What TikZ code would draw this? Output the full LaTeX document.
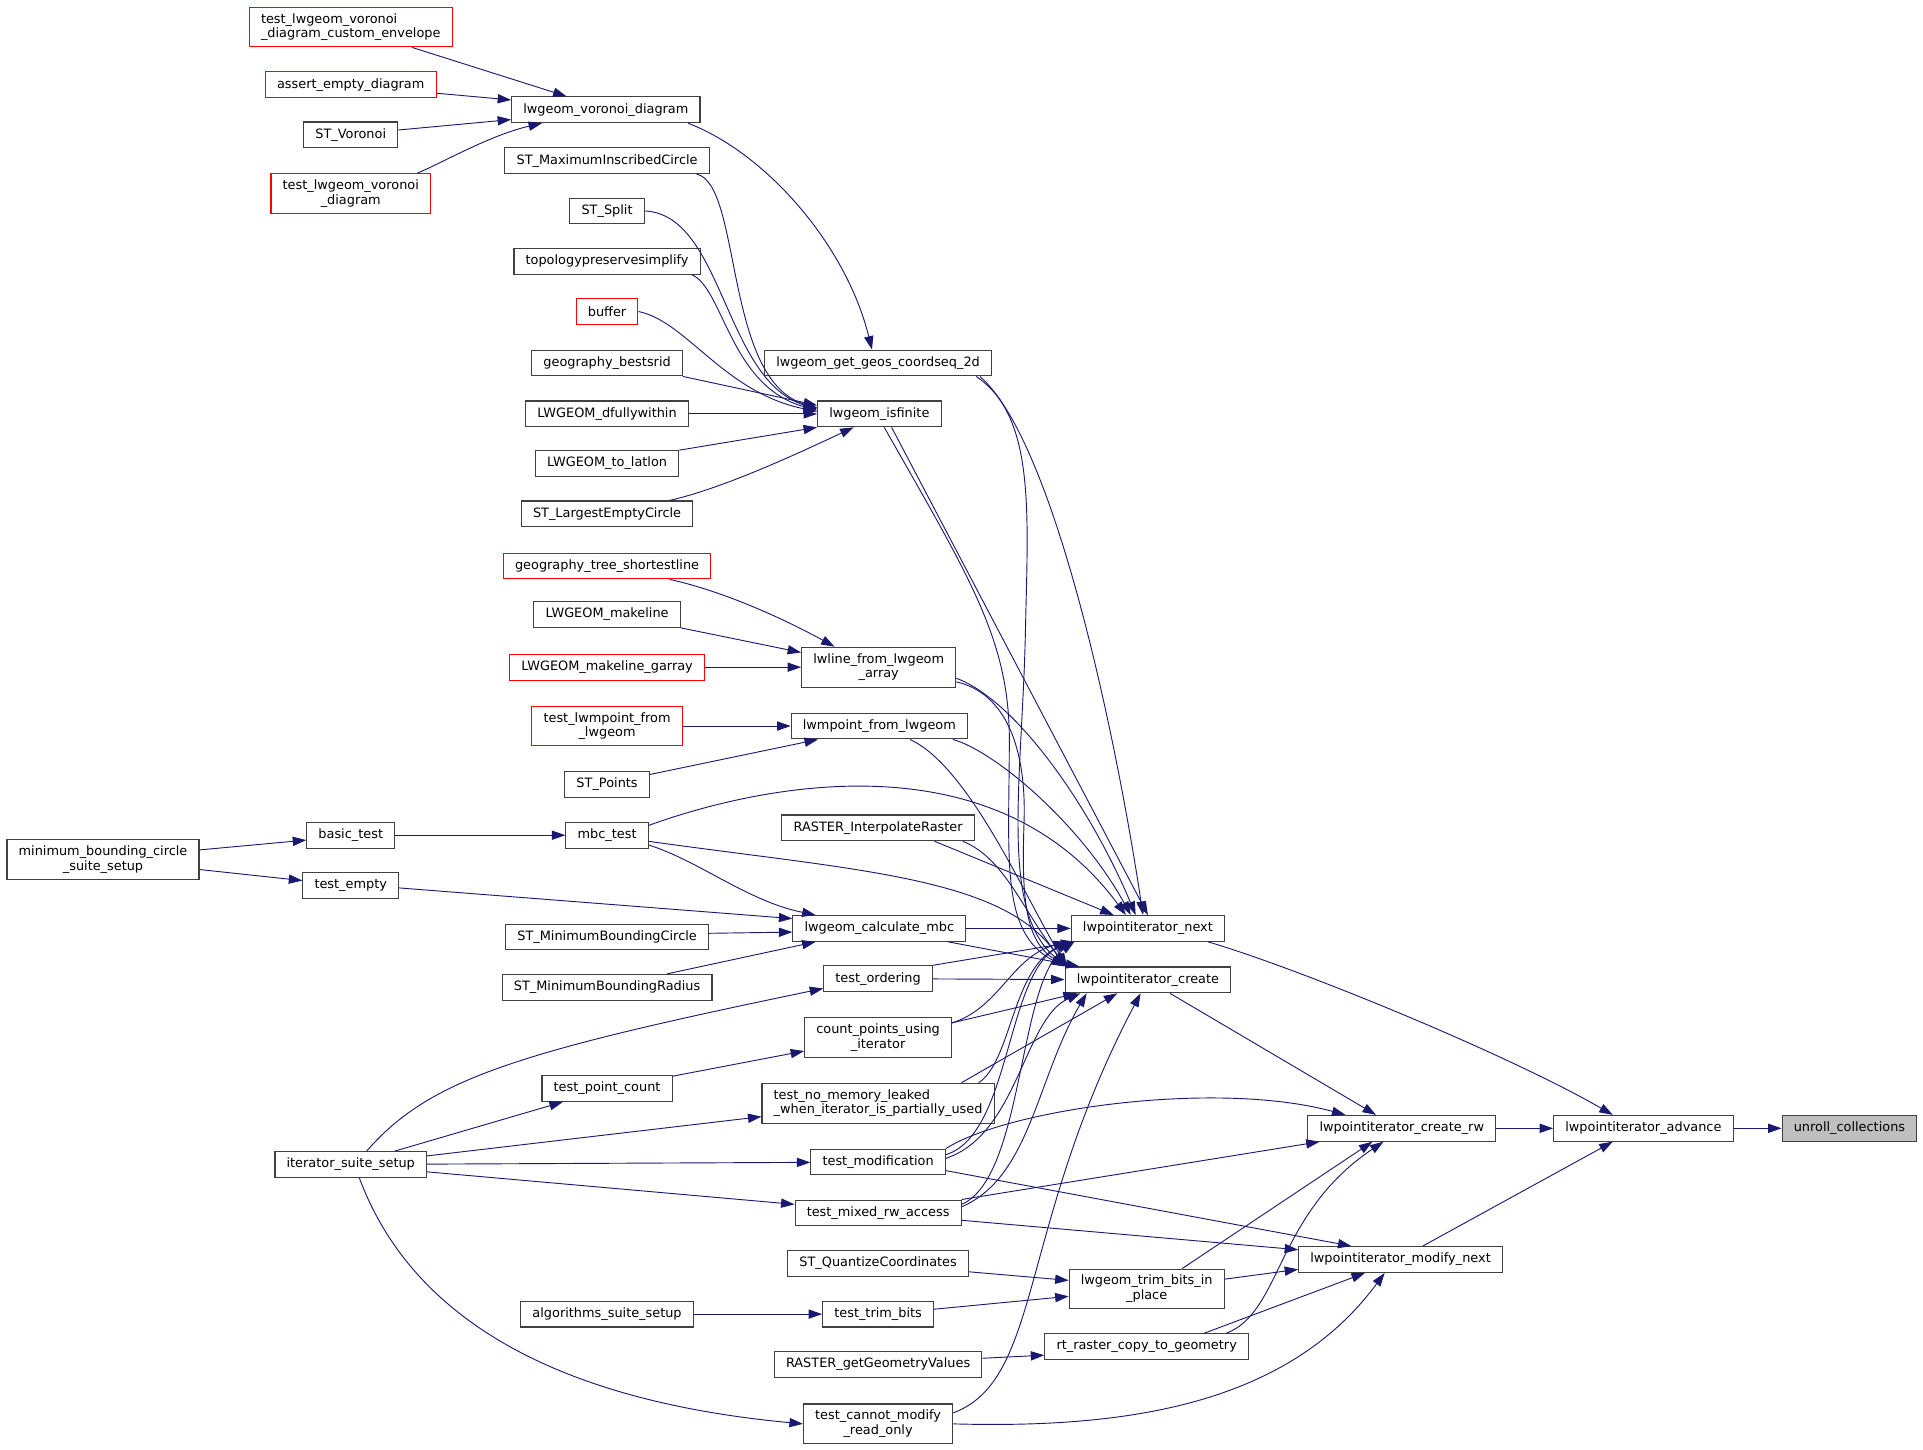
\documentclass[tikz,border=0pt]{standalone}
\usepackage{fontspec}
\newfontfamily\dxfont{DejaVu Sans}
\usetikzlibrary{arrows.meta}
\definecolor{edgeblue}{RGB}{25,25,112}
\definecolor{boxgrey}{RGB}{64,64,64}
\definecolor{rootfill}{RGB}{191,191,191}

\tikzset{
  fn/.style={draw=boxgrey, line width=0.9pt, fill=white, rectangle,
    inner xsep=9.5pt, inner ysep=5pt, minimum height=21pt, align=center,
    font=\dxfont\fontsize{10.5pt}{12pt}\selectfont},
  fnred/.style={fn, draw=red},
  call/.style={draw=edgeblue, line width=0.75pt, -{Triangle[length=11pt,width=7.5pt]}}
}

\begin{document}
\begin{tikzpicture}[x=1pt, y=-1pt]
\useasboundingbox (0,0) rectangle (1568,1181.5);

% right part
\node[fn, fill=rootfill] (uc) at (1508,920) {unroll\_collections};
\node[fn] (adv) at (1340,920) {lwpointiterator\_advance};
\node[fn] (crw) at (1143,920) {lwpointiterator\_create\_rw};
\node[fn] (mn) at (1142,1027) {lwpointiterator\_modify\_next};
\node[fn] (nxt) at (936,757) {lwpointiterator\_next};
\node[fn] (crt) at (936,799) {lwpointiterator\_create};
\node[fn] (tbip) at (935,1051) {lwgeom\_trim\_bits\_in\\\_place};
\node[fn] (rrc) at (935,1098) {rt\_raster\_copy\_to\_geometry};

% middle column
\node[fn] (ggc) at (716,296) {lwgeom\_get\_geos\_coordseq\_2d};
\node[fn] (isf) at (717,337.5) {lwgeom\_isfinite};
\node[fn] (lfa) at (716.5,544) {lwline\_from\_lwgeom\\\_array};
\node[fn] (mpl) at (717,592) {lwmpoint\_from\_lwgeom};
\node[fn] (rir) at (716,675) {RASTER\_InterpolateRaster};
\node[fn] (mbc) at (717,757) {lwgeom\_calculate\_mbc};
\node[fn] (tord) at (716,798) {test\_ordering};
\node[fn] (cpui) at (716,846) {count\_points\_using\\\_iterator};
\node[fn, align=left] (tnml) at (716,899.5) {test\_no\_memory\_leaked\\\_when\_iterator\_is\_partially\_used};
\node[fn] (tmod) at (716,947.5) {test\_modification};
\node[fn] (tmix) at (716,989) {test\_mixed\_rw\_access};
\node[fn] (sqc) at (716,1030) {ST\_QuantizeCoordinates};
\node[fn] (ttb) at (716,1071.5) {test\_trim\_bits};
\node[fn] (rggv) at (716,1112.5) {RASTER\_getGeometryValues};
\node[fn] (tcm) at (716,1161) {test\_cannot\_modify\\\_read\_only};

% callers column
\node[fn] (vor) at (494,89.5) {lwgeom\_voronoi\_diagram};
\node[fn] (smic) at (495,131) {ST\_MaximumInscribedCircle};
\node[fn] (ssp) at (495,172) {ST\_Split};
\node[fn] (tps) at (495,213) {topologypreservesimplify};
\node[fnred] (buf) at (495,254) {buffer};
\node[fn] (gbs) at (495,296) {geography\_bestsrid};
\node[fn] (ldw) at (495,337.5) {LWGEOM\_dfullywithin};
\node[fn] (ltl) at (495,378) {LWGEOM\_to\_latlon};
\node[fn] (slec) at (495,419) {ST\_LargestEmptyCircle};
\node[fnred] (gts) at (495,461.5) {geography\_tree\_shortestline};
\node[fn] (lml) at (495,501) {LWGEOM\_makeline};
\node[fnred] (lmg) at (495,544) {LWGEOM\_makeline\_garray};
\node[fnred] (tlmp) at (495,592) {test\_lwmpoint\_from\\\_lwgeom};
\node[fn] (spt) at (495,639.5) {ST\_Points};
\node[fn] (mbct) at (495,681) {mbc\_test};
\node[fn] (smbc) at (495,764) {ST\_MinimumBoundingCircle};
\node[fn] (smbr) at (495,805) {ST\_MinimumBoundingRadius};
\node[fn] (tpc) at (495,887.5) {test\_point\_count};
\node[fn] (ass) at (495,1071.5) {algorithms\_suite\_setup};

% left columns
\node[fnred, align=left] (tvce) at (286,22) {test\_lwgeom\_voronoi\\\_diagram\_custom\_envelope};
\node[fnred] (aed) at (286,69) {assert\_empty\_diagram};
\node[fn] (stv) at (286,110) {ST\_Voronoi};
\node[fnred] (tvd) at (286,158) {test\_lwgeom\_voronoi\\\_diagram};
\node[fn] (bt) at (286,681) {basic\_test};
\node[fn] (te) at (286,722) {test\_empty};
\node[fn] (iss) at (286,949.5) {iterator\_suite\_setup};
\node[fn] (mbcs) at (84,701) {minimum\_bounding\_circle\\\_suite\_setup};

% edges of the right part
\draw[call] (adv) -- (uc);
\draw[call] (crw) -- (adv);
\draw[call] ([xshift=49pt]nxt.south) .. controls (1060,790) and (1230,860) .. ([xshift=-25pt]adv.north);
\draw[call] ([xshift=18pt]mn.north) -- ([xshift=-25pt]adv.south);
\draw[call] ([xshift=18pt]crt.south) -- ([xshift=-21pt]crw.north);
\draw[call] (tmod.north east) .. controls (820,905) and (990,880) .. ([xshift=-46pt]crw.north);
\draw[call] (tmix.north east) -- ([xshift=-67pt]crw.south);
\draw[call] ([xshift=29pt]tbip.north) -- ([xshift=-24pt]crw.south);
\draw[call] ([xshift=65pt]rrc.north) .. controls (1045,1070) and (1040,990) .. ([xshift=-15pt]crw.south);
\draw[call] ([yshift=-7pt]tmod.east) -- ([xshift=-40pt]mn.north);
\draw[call] ([yshift=-6pt]tmix.east) -- ([yshift=8pt]mn.west);
\draw[call] ([yshift=8pt]tbip.east) -- ([yshift=-8pt]mn.west);
\draw[call] ([xshift=47pt]rrc.north) -- ([xshift=-29pt]mn.south);
\draw[call] (tcm.east) .. controls (920,1165) and (1050,1145) .. ([xshift=-13pt]mn.south);
\draw[call] ([yshift=-7pt]sqc.east) -- ([yshift=7pt]tbip.west);
\draw[call] ([yshift=4pt]ttb.east) -- ([yshift=-6pt]tbip.west);
\draw[call] (ass) -- (ttb);
\draw[call] ([yshift=5pt]rggv.east) -- ([yshift=-7pt]rrc.west);
\draw[call] ([yshift=9pt]tcm.east) .. controls (850,1125) and (830,1000) .. ([xshift=-6pt]crt.south);

% iterator tests
\draw[call] ([xshift=7pt]iss.south) .. controls (330,1060) and (430,1140) .. (tcm.west);
\draw[call] (iss) -- (tmod);
\draw[call] ([yshift=-6pt]iss.east) -- ([yshift=7pt]tmix.west);
\draw[call] ([yshift=7pt]iss.east) -- ([yshift=-11pt]tnml.west);
\draw[call] ([xshift=36pt]iss.north) -- ([xshift=-36pt]tpc.south);
\draw[call] ([xshift=13pt]iss.north) .. controls (350,880) and (420,858) .. ([yshift=-8pt]tord.west);
\draw[call] ([yshift=10pt]tpc.east) -- ([yshift=-11pt]cpui.west);

% into lwpointiterator_next / _create
\draw[call] ([xshift=83pt]ggc.south) .. controls (860,360) and (910,600) .. ([xshift=-4pt]nxt.north);
\draw[call] ([xshift=80pt]ggc.south) .. controls (845,340) and (838,420) .. (836,520)
  .. controls (833,640) and (815,745) .. ([xshift=-66pt]crt.north);
\draw[call] ([xshift=10pt]isf.south) -- (nxt.north);
\draw[call] ([xshift=4pt]isf.south) .. controls (790,470) and (822,520) .. (823,600)
  .. controls (823,700) and (815,760) .. ([xshift=-68pt]crt.north);
\draw[call] ([yshift=-9pt]lfa.east) .. controls (830,572) and (890,660) .. ([xshift=-10pt]nxt.north);
\draw[call] ([yshift=-12pt]lfa.east) .. controls (820,565) and (837,610) .. (835,670)
  .. controls (833,730) and (835,770) .. ([xshift=-64pt]crt.north);
\draw[call] ([xshift=60pt]mpl.south) .. controls (810,612) and (880,670) .. ([xshift=-14pt]nxt.north);
\draw[call] ([xshift=25pt]mpl.south) .. controls (790,625) and (835,730) .. ([xshift=-66pt]crt.north);
\draw[call] ([xshift=46pt]rir.south) -- ([xshift=-28pt]nxt.north);
\draw[call] ([xshift=69pt]rir.south) .. controls (820,700) and (835,745) .. ([xshift=-66pt]crt.north);
\draw[call] ([yshift=8pt]mbct.east) .. controls (620,640) and (810,600) .. ([xshift=-18pt]nxt.north);
\draw[call] ([yshift=-5pt]mbct.east) .. controls (700,710) and (820,715) .. ([xshift=-68pt]crt.north);
\draw[call] ([yshift=-8pt]mbct.east) .. controls (570,702) and (610,735) .. ([xshift=-52pt]mbc.north);
\draw[call] (mbc) -- (nxt);
\draw[call] ([xshift=56pt]mbc.south) -- ([xshift=-56pt]crt.north);
\draw[call] (tord.north east) -- ([xshift=-60pt]nxt.south);
\draw[call] (tord) -- (crt);
\draw[call] ([yshift=12pt]cpui.east) -- ([xshift=-58pt]crt.south);
\draw[call] ([yshift=12pt]cpui.east) .. controls (815,822) and (825,780) .. ([xshift=-66pt]nxt.south);
\draw[call] ([xshift=68pt]tnml.north) -- ([xshift=-25pt]crt.south);
\draw[call] ([xshift=82pt]tnml.north) .. controls (825,865) and (825,790) .. ([xshift=-64pt]nxt.south);
\draw[call] ([yshift=6pt]tmod.east) .. controls (825,925) and (820,790) .. ([xshift=-62pt]nxt.south);
\draw[call] ([yshift=3pt]tmod.east) .. controls (830,925) and (835,830) .. ([xshift=-55pt]crt.south);
\draw[call] ([yshift=7pt]tmix.east) .. controls (835,960) and (830,800) .. ([xshift=-60pt]nxt.south);
\draw[call] ([yshift=5pt]tmix.east) .. controls (840,960) and (845,880) .. ([xshift=-50pt]crt.south);

% voronoi
\draw[call] ([xshift=67pt]vor.south) .. controls (625,125) and (690,200) .. ([xshift=-5pt]ggc.north);
\draw[call] ([xshift=50pt]tvce.south) -- ([xshift=-32pt]vor.north);
\draw[call] ([yshift=-7pt]aed.east) -- ([yshift=8pt]vor.west);
\draw[call] ([yshift=4pt]stv.east) -- ([yshift=-8pt]vor.west);
\draw[call] ([xshift=54pt]tvd.north) .. controls (360,133) and (400,110) .. ([xshift=-52pt]vor.south);

% isfinite
\draw[call] ([xshift=73pt]smic.south) .. controls (605,150) and (590,310) .. ([yshift=5pt]isf.west);
\draw[call] (ssp.east) .. controls (590,175) and (590,310) .. ([yshift=4pt]isf.west);
\draw[call] ([xshift=69pt]tps.south) .. controls (590,235) and (595,315) .. ([yshift=3pt]isf.west);
\draw[call] (buf.east) .. controls (560,262) and (590,320) .. ([yshift=2pt]isf.west);
\draw[call] (gbs.south east) -- ([yshift=7pt]isf.west);
\draw[call] (ldw) -- (isf);
\draw[call] (ltl.north east) -- (isf.south west);
\draw[call] ([xshift=51pt]slec.north) .. controls (590,398) and (650,370) .. ([xshift=-21pt]isf.south);

% line / mpoint / mbc
\draw[call] ([xshift=51pt]gts.south) .. controls (590,482) and (640,505) .. ([xshift=-36pt]lfa.north);
\draw[call] (lml.south east) -- ([yshift=12pt]lfa.west);
\draw[call] (lmg) -- (lfa);
\draw[call] (tlmp) -- (mpl);
\draw[call] ([yshift=8pt]spt.east) -- ([xshift=-50pt]mpl.south);
\draw[call] (bt) -- (mbct);
\draw[call] ([yshift=8pt]mbcs.east) -- ([yshift=-4pt]bt.west);
\draw[call] ([yshift=-8pt]mbcs.east) -- ([yshift=4pt]te.west);
\draw[call] ([yshift=-2pt]te.east) -- ([yshift=8pt]mbc.west);
\draw[call] ([yshift=3pt]smbc.east) -- ([yshift=-3pt]mbc.west);
\draw[call] ([xshift=49pt]smbr.north) -- ([xshift=-52pt]mbc.south);
\end{tikzpicture}
\end{document}
